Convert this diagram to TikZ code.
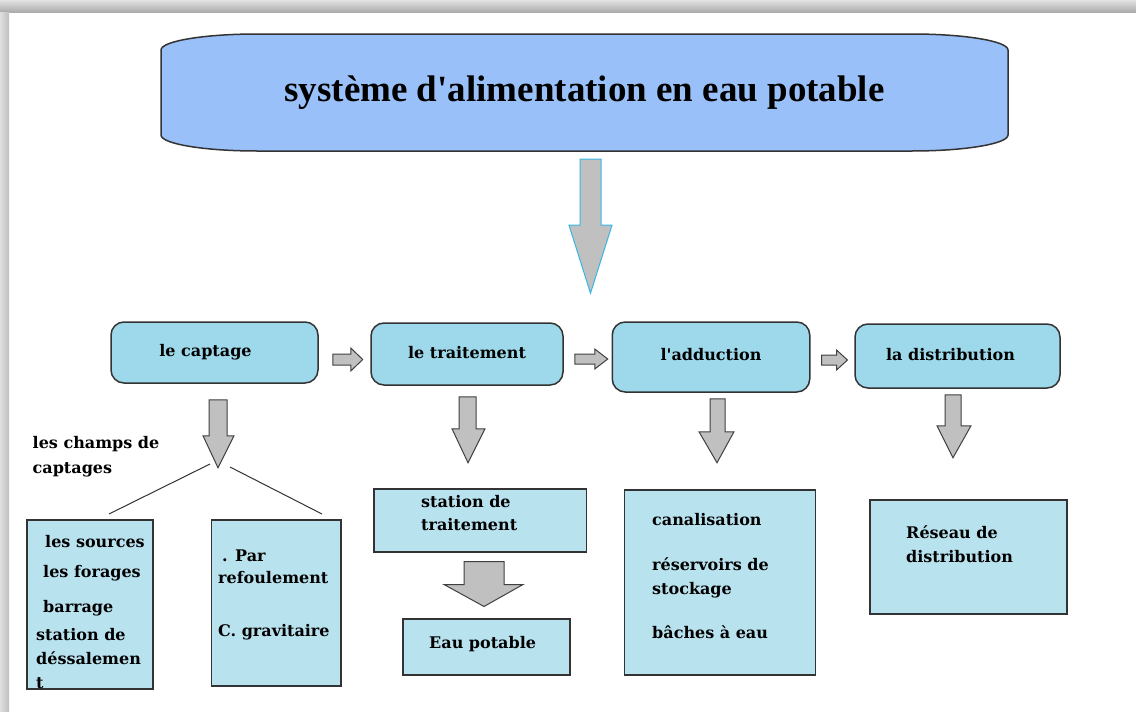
\documentclass[tikz,border=0pt]{standalone}
\usepackage{fontspec}
\setmainfont{Liberation Serif}
\newfontfamily\boxfont{DejaVu Serif}
\usepackage{xcolor}
\usetikzlibrary{calc}

\definecolor{titleblue}{HTML}{99C0F8}
\definecolor{stageblue}{HTML}{9DD9EA}
\definecolor{boxblue}{HTML}{B9E2EF}
\definecolor{arrowgray}{HTML}{C0C0C0}
\definecolor{edgecyan}{HTML}{3AB4E6}

\begin{document}
\begin{tikzpicture}[
    x=1pt, y=-1pt,
    stage/.style={
        rectangle,
        draw=black!80,
        line width=1.5pt,
        fill=stageblue,
        rounded corners=13pt,
        inner sep=0pt,
        font=\boxfont\bfseries\fontsize{16}{19}\selectfont
    },
    lowbox/.style={
        rectangle,
        draw=black!80,
        line width=1.5pt,
        fill=boxblue,
        anchor=north west,
        inner sep=0pt
    },
    txt/.style={
        anchor=base west,
        inner sep=0pt,
        align=left,
        font=\boxfont\bfseries\fontsize{16}{24}\selectfont
    },
    barrow/.style={draw=black!75, fill=arrowgray, line width=1pt}
]

\useasboundingbox (0,0) rectangle (1136,712);
\fill[white] (0,0) rectangle (1136,712);

% frame shadow
\shade[top color=gray!22, bottom color=gray!66] (0,0) rectangle (1136,12);
\shade[left color=gray!25, right color=gray!50] (0,12) rectangle (9,712);

% title
\draw[fill=titleblue, draw=black!80, line width=1.5pt]
    (257,34) -- (912,34) arc[start angle=-90, end angle=0, x radius=96, y radius=16]
    -- (1008,135) arc[start angle=0, end angle=90, x radius=96, y radius=16]
    -- (257,151) arc[start angle=90, end angle=180, x radius=96, y radius=16]
    -- (161,50) arc[start angle=180, end angle=270, x radius=96, y radius=16] -- cycle;
\node[font=\bfseries\fontsize{37}{40}\selectfont, minimum width=847pt, minimum height=117pt, inner sep=0pt]
    (title) at (584.5,92.5) {\raisebox{7pt}{système d\textquotesingle alimentation en eau potable}};

\draw[fill=arrowgray, draw=edgecyan, line width=1pt] ($(title.south)+(-4.5,8)$)
    -- ++(21,0) -- ++(0,66) -- ++(11,0) -- ++(-21.5,68) -- ++(-21.5,-68) -- ++(11,0) -- cycle;

% the four stages
\node[stage, minimum width=207pt, minimum height=61pt] (captage) at (214.5,352.5) {le captage\hspace*{18pt}};
\node[stage, minimum width=192pt, minimum height=62pt] (traitement) at (467,354) {\raisebox{4pt}{le traitement}};
\node[stage, minimum width=197.5pt, minimum height=70pt] (adduction) at (711,357) {\raisebox{5pt}{l\textquotesingle adduction}};
\node[stage, minimum width=205pt, minimum height=64pt] (distribution) at (957.5,356) {\raisebox{4pt}{la distribution}\hspace*{14pt}};

\draw[barrow] ($(captage.east)+(14,1.5)$)
    -- ++(18,0) -- ++(0,-6) -- ++(12,11.5) -- ++(-12,11.5) -- ++(0,-6) -- ++(-18,0) -- cycle;
\draw[barrow] ($(traitement.east)+(11,0)$)
    -- ++(20,0) -- ++(0,-5) -- ++(13,10) -- ++(-13,10) -- ++(0,-5) -- ++(-20,0) -- cycle;
\draw[barrow] ($(adduction.east)+(11,-2)$)
    -- ++(15,0) -- ++(0,-5) -- ++(11,10) -- ++(-11,10) -- ++(0,-5) -- ++(-15,0) -- cycle;

% down arrows
\draw[barrow] ($(captage.south)+(-5.5,16)$)
    -- ++(18,0) -- ++(0,36) -- ++(7,0) -- ++(-16,32) -- ++(-15,-32) -- ++(6,0) -- cycle;
\draw[barrow] ($(traitement.south)+(-8,11)$)
    -- ++(17,0) -- ++(0,32) -- ++(9,0) -- ++(-17,34) -- ++(-16,-34) -- ++(7,0) -- cycle;
\draw[barrow] ($(adduction.south)+(-1,6)$)
    -- ++(15,0) -- ++(0,33) -- ++(9,0) -- ++(-17,31) -- ++(-18,-31) -- ++(11,0) -- cycle;
\draw[barrow] ($(distribution.south)+(-12.5,6)$)
    -- ++(16,0) -- ++(0,31) -- ++(10,0) -- ++(-18,32) -- ++(-16,-32) -- ++(8,0) -- cycle;

% captage branches (text nodes sit on their last baseline)
\node[txt] (champs) at (32.5,473) {les champs de\\[1pt]captages};
\coordinate (forkl) at (210,464);
\coordinate (forkr) at (230,467);
\coordinate (sourcestop) at (109,514);
\coordinate (refoultop) at (322,514);
\draw[black!80, line width=1pt] (forkl) -- (sourcestop);
\draw[black!80, line width=1pt] (forkr) -- (refoultop);

\node[lowbox, minimum width=126pt, minimum height=169pt] (sources) at (26,519) {};
\node[txt] (sourcestxt) at (36,688) {\hspace*{9pt}les sources\\[6pt]\hspace*{7pt}les forages\\[11pt]\hspace*{7pt}barrage\\[4pt]station de\\déssalemen\\t};

\node[lowbox, minimum width=129.5pt, minimum height=166pt] (refoul) at (210.5,519) {};
\node[txt] (refoultxt) at (218,636) {\hspace*{4pt}. Par\\[-2pt]refoulement\\[29pt]C. gravitaire};

% traitement branch
\node[lowbox, minimum width=212.5pt, minimum height=63pt] (station) at (373,488) {};
\node[txt] (stationtxt) at (421,530) {station de\\[-1pt]traitement};
\draw[barrow] ($(station.south)+(-16,9)$)
    -- ++(40,0) -- ++(0,23) -- ++(19,0) -- ++(-39,22) -- ++(-40,-22) -- ++(20,0) -- cycle;
\node[lowbox, minimum width=167pt, minimum height=56pt] (eau) at (402,618) {};
\node[txt] (eautxt) at (429,648) {Eau potable};

% adduction branch
\node[lowbox, minimum width=191pt, minimum height=185pt] (canal) at (623.5,489) {};
\node[txt] (canaltxt) at (652,638) {canalisation\\[21pt]réservoirs de\\stockage\\[20pt]bâches à eau};

% distribution branch
\node[lowbox, minimum width=197pt, minimum height=114pt] (reseau) at (869,499) {};
\node[txt] (reseautxt) at (906,562) {Réseau de\\distribution};

\end{tikzpicture}
\end{document}
